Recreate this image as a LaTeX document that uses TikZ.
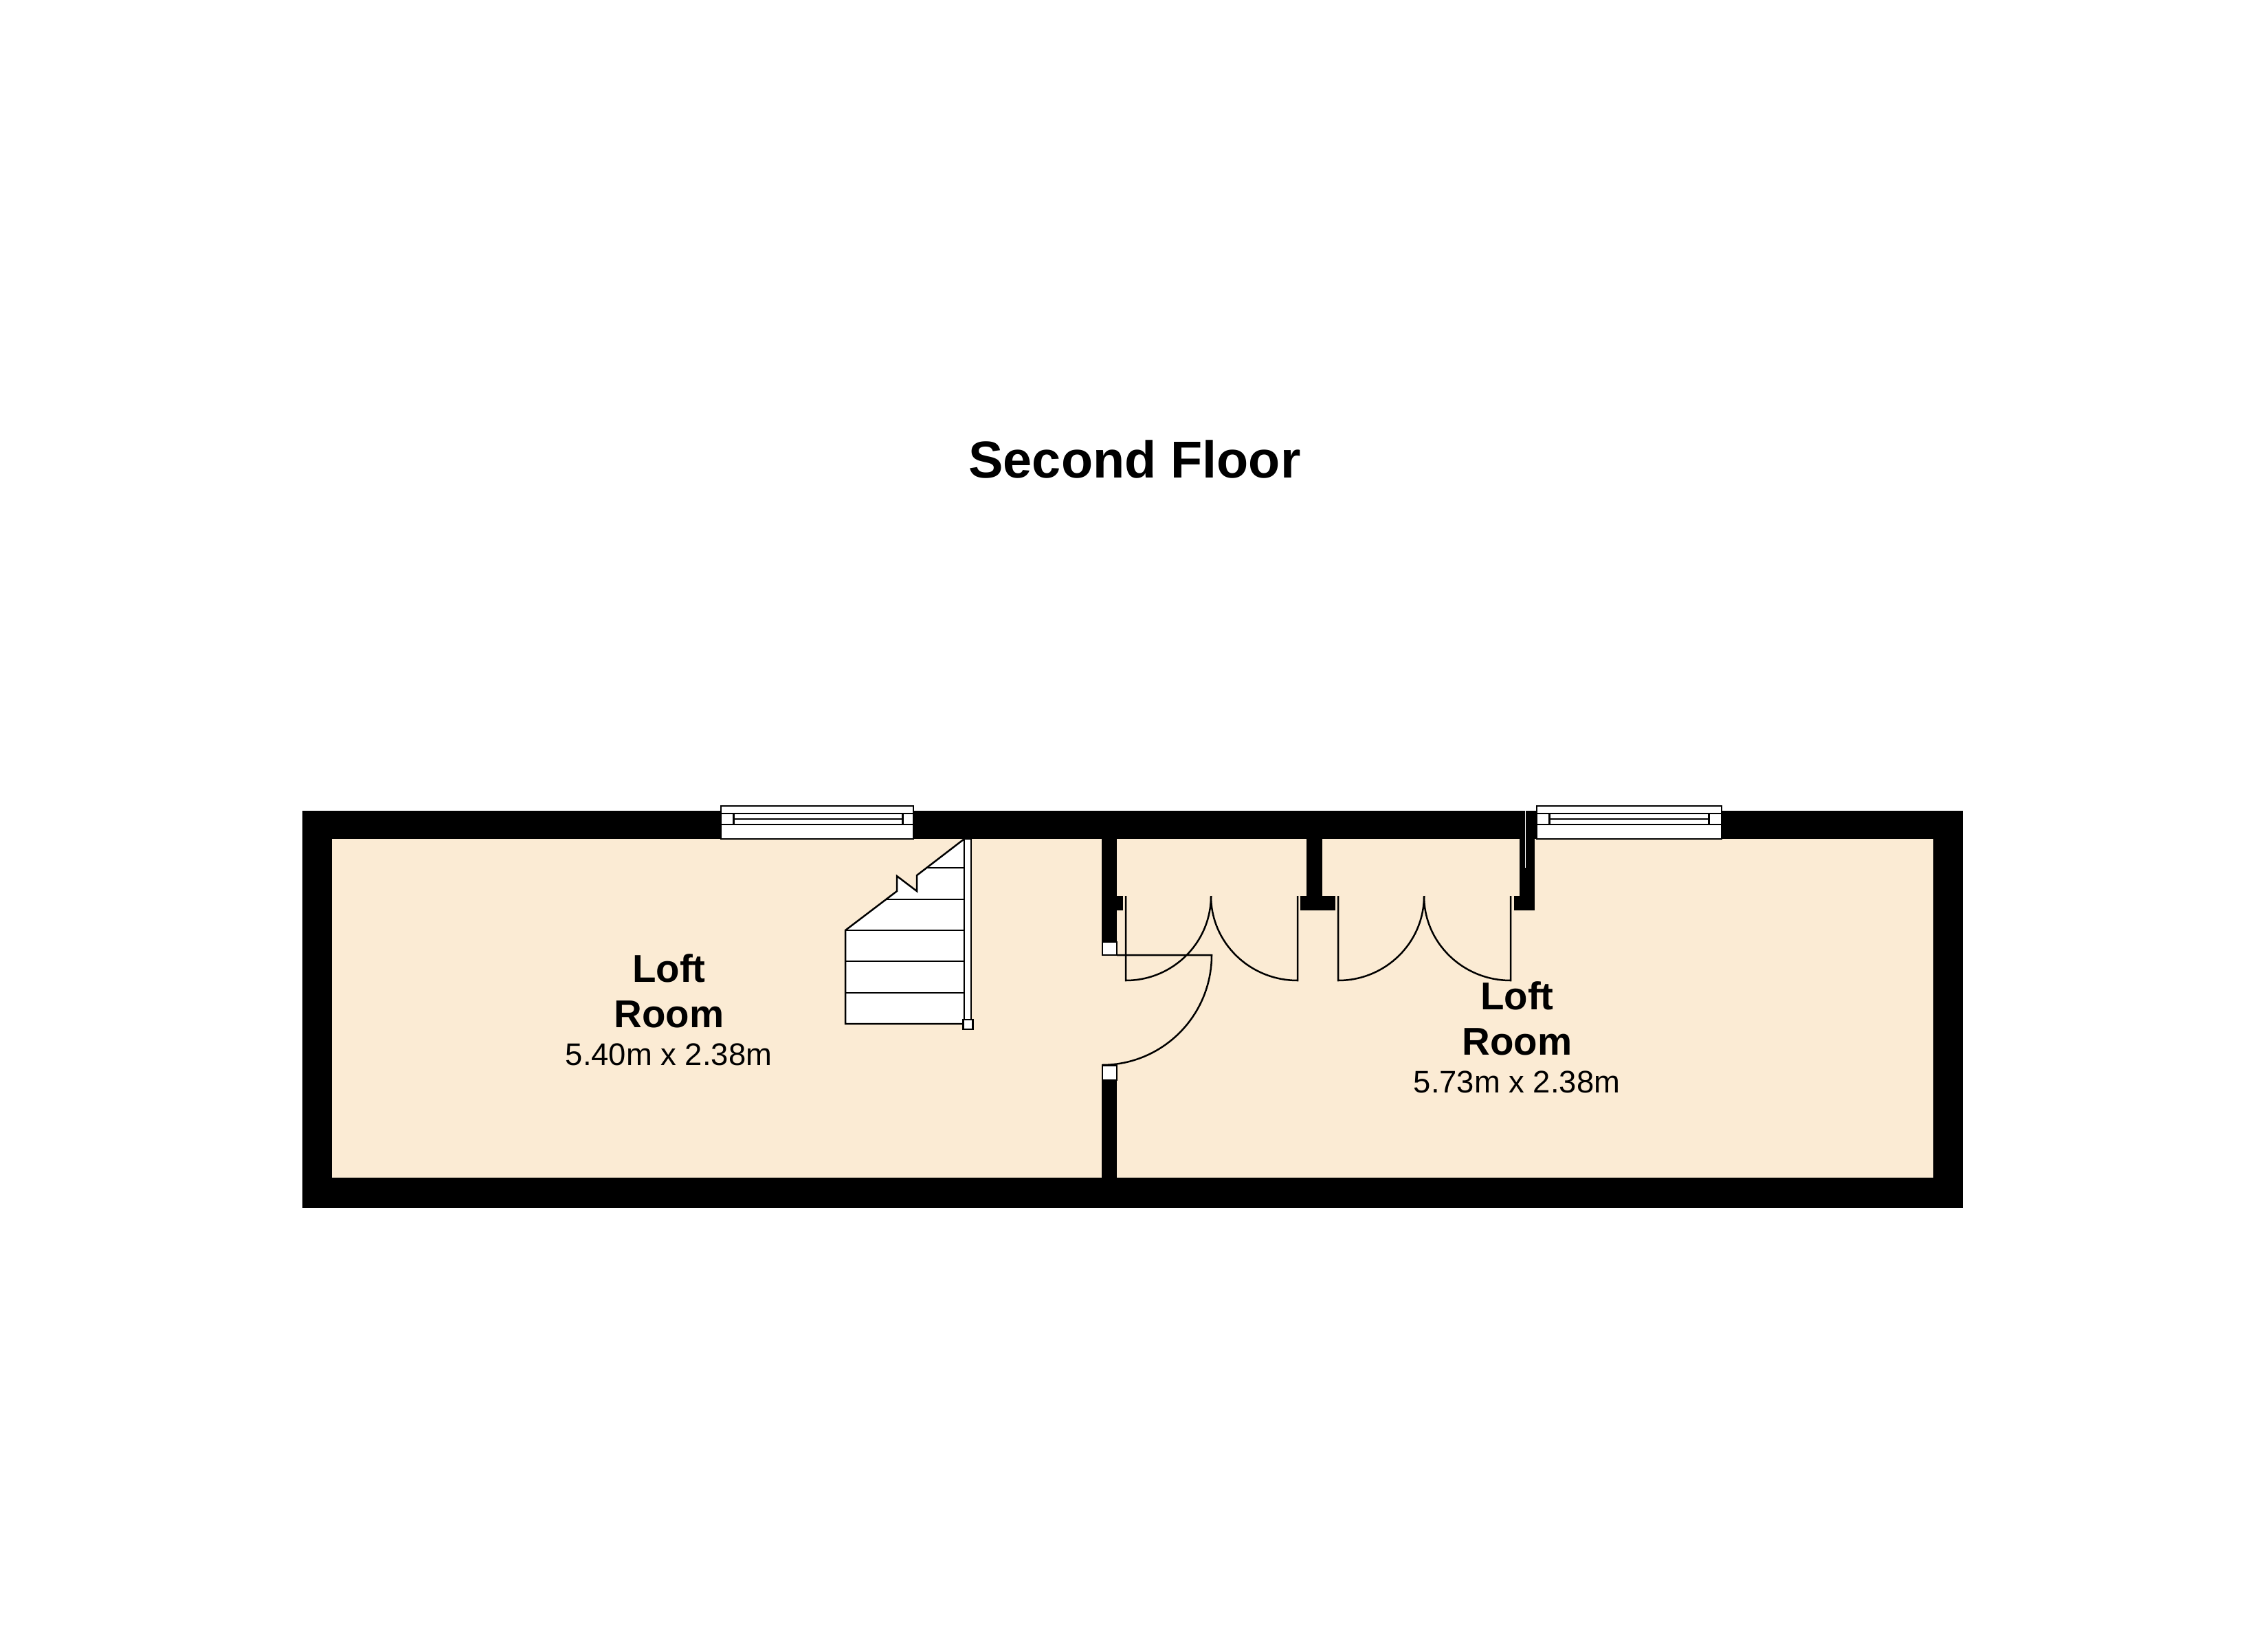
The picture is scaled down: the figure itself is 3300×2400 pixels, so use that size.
\documentclass[tikz,border=0pt]{standalone}
\usepackage{fontspec}
\setmainfont{Liberation Sans}
\definecolor{roomfill}{HTML}{FBEBD4}
\tikzset{
  wallfill/.style={fill=black,draw=none},
  ink/.style={draw=black,line width=2.5pt,line join=miter},
  whitebox/.style={ink,fill=white},
  titletext/.style={anchor=base,inner sep=0pt,font=\fontsize{75.6}{80}\selectfont\bfseries},
  roomtext/.style={anchor=base,inner sep=0pt,font=\fontsize{56.4}{60}\selectfont\bfseries},
  dimtext/.style={anchor=base,inner sep=0pt,font=\fontsize{45.4}{50}\selectfont}
}
\begin{document}
\begin{tikzpicture}[x=1pt,y=-1pt]
\useasboundingbox (0,0) rectangle (3300,2400);
\fill[white] (0,0) rectangle (3300,2400);
% outer wall and room floor
\fill[wallfill] (440,1180) rectangle (2856,1758);
\fill[roomfill] (483,1221) rectangle (2813,1714);
% partition walls
\fill[wallfill] (1603,1221) rectangle (1625,1372);
\fill[wallfill] (1625,1304) rectangle (1634,1325);
\fill[wallfill] (1603,1572) rectangle (1625,1716);
\fill[wallfill] (1901,1221) rectangle (1924,1304);
\fill[wallfill] (1892,1304) rectangle (1943,1325);
\fill[wallfill] (2211,1221) rectangle (2233,1304);
\fill[wallfill] (2202.5,1304) rectangle (2233,1325);
\draw[white,line width=1pt] (2219,1180) -- (2219,1263);
% left window
\draw[whitebox] (1049,1173) rectangle (1329,1221);
\draw[ink] (1049,1184) -- (1329,1184);
\draw[ink] (1049,1200) -- (1329,1200);
\draw[ink] (1067,1192) -- (1313,1192);
\draw[ink,line width=3pt] (1067,1184) -- (1067,1200);
\draw[ink,line width=3pt] (1313,1184) -- (1313,1200);
% right window
\draw[whitebox] (2236,1173) rectangle (2505,1221);
\draw[ink] (2236,1184) -- (2505,1184);
\draw[ink] (2236,1200) -- (2505,1200);
\draw[ink] (2254,1192) -- (2486,1192);
\draw[ink,line width=3pt] (2254,1184) -- (2254,1200);
\draw[ink,line width=3pt] (2486,1184) -- (2486,1200);
% stairs
\draw[whitebox] (1403,1221) -- (1334,1274) -- (1334,1297) -- (1305,1275) -- (1305,1297) -- (1230,1354) -- (1230,1490) -- (1403,1490) -- cycle;
\draw[ink] (1347,1263) -- (1403,1263);
\draw[ink] (1290,1309) -- (1403,1309);
\draw[ink] (1230,1354) -- (1403,1354);
\draw[ink] (1230,1399) -- (1403,1399);
\draw[ink] (1230,1445) -- (1403,1445);
\draw[whitebox] (1403,1221) rectangle (1413,1484);
\draw[whitebox] (1401.5,1484) rectangle (1415.5,1498);
% entrance door
\draw[ink] (1625,1390) -- (1763,1390) .. controls (1763,1478.4) and (1691.6,1550) .. (1603,1550);
\draw[whitebox] (1604,1371) rectangle (1625,1390);
\draw[whitebox] (1604,1551) rectangle (1625,1572);
% first pair of doors
\draw[ink] (1638,1304) -- (1638,1427) .. controls (1706.5,1427) and (1762,1372) .. (1762,1304);
\draw[ink] (1888,1304) -- (1888,1427) .. controls (1818.4,1427) and (1762,1372) .. (1762,1304);
% second pair of doors
\draw[ink] (1947,1304) -- (1947,1427) .. controls (2016,1427) and (2072,1372) .. (2072,1304);
\draw[ink] (2198,1304) -- (2198,1427) .. controls (2128.4,1427) and (2072,1372) .. (2072,1304);
% texts
\node[titletext] (title) at (1651,695) {Second Floor};
\node[roomtext] (loftA) at (973.5,1429.5) {Loft};
\node[roomtext] (roomA) at (973.5,1495.5) {Room};
\node[dimtext] (dimA) at (973,1550) {5.40m x 2.38m};
\node[roomtext] (loftB) at (2207.5,1469.5) {Loft};
\node[roomtext] (roomB) at (2207.5,1535.5) {Room};
\node[dimtext] (dimB) at (2207,1590) {5.73m x 2.38m};
\end{tikzpicture}
\end{document}
